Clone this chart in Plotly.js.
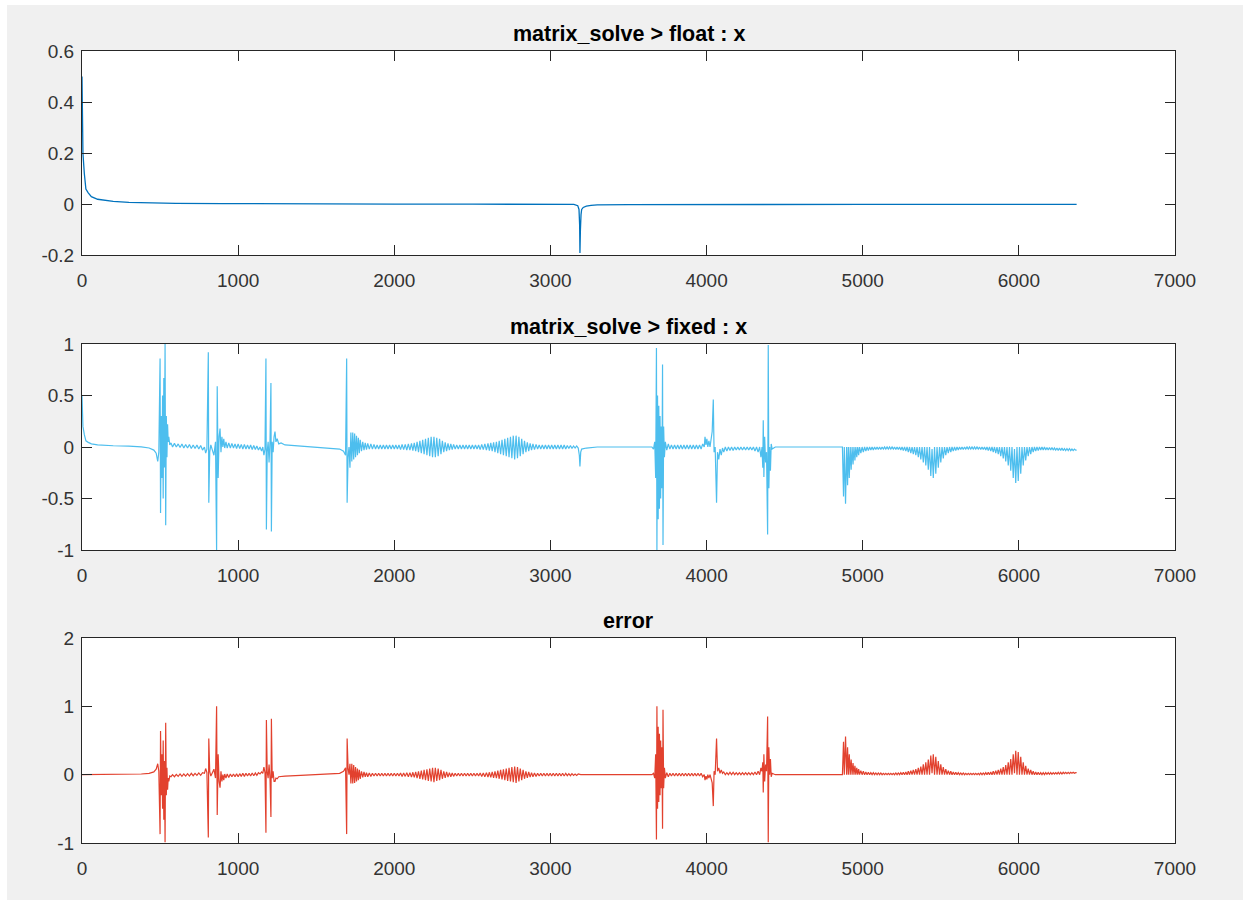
<!DOCTYPE html>
<html>
<head>
<meta charset="utf-8">
<script src="https://cdn.plot.ly/plotly-3.0.1.min.js"></script>
<style>
  html, body { margin: 0; padding: 0; background: #ffffff; }
  #chart { position: absolute; left: 7px; top: 5px; width: 1236px; height: 895px; }
</style>
</head>
<body>
<div id="chart"></div>
<script>
// ---- tick labels ----
const xTickVals = [0, 1000, 2000, 3000, 4000, 5000, 6000, 7000];
const xTickText = ["0", "1000", "2000", "3000", "4000", "5000", "6000", "7000"];
const yTickVals1 = [-0.2, 0, 0.2, 0.4, 0.6];
const yTickText1 = ["-0.2", "0", "0.2", "0.4", "0.6"];
const yTickVals2 = [-1, -0.5, 0, 0.5, 1];
const yTickText2 = ["-1", "-0.5", "0", "0.5", "1"];
const yTickVals3 = [-1, 0, 1, 2];
const yTickText3 = ["-1", "0", "1", "2"];

const titles = ["matrix_solve &gt; float : x", "matrix_solve &gt; fixed : x", "error"];

// ---- series 1: float solution ----
const xFloat = [0,3,6,15,25,40,60,100,150,200,300,400,600,900,1200,1600,2000,2500,3000,3150,3175,3183,3187,3189,3192,3196,3200,3210,3230,3260,3300,3500,4000,5000,6000,6370];
const yFloat = [0.5,0.35,0.2,0.12,0.06,0.045,0.03,0.02,0.015,0.012,0.008,0.006,0.004,0.003,0.002,0.0015,0.001,0.0008,0.0005,0,-0.005,-0.02,-0.08,-0.19,-0.1,-0.04,-0.02,-0.012,-0.007,-0.004,-0.002,-0.001,0,0,0,0];

// ---- series 2 & 3: fixed solution and error (same sample positions) ----
const xFixed = [
  0,3,6,15,25,40,60,100,150,200,300,380,430,460,475,485,492,
  500,503,508,512,516,520,524,528,532,536,540,544,548,552,556,562,
  570,580,592,604,616,628,640,652,664,676,688,700,712,724,736,748,760,772,784,792,800,
  809,812,818,825,835,845,855,862,866,872,878,884,890,896,902,908,914,922,930,940,950,960,970,980,990,1000,1010,1020,1030,1040,1050,1060,1070,1080,1090,1100,1110,1120,1130,1140,1150,1158,1165,1172,
  1178,1181,1186,1192,1198,1204,1210,1213,1218,1224,1230,1236,1242,1250,1260,1275,1300,1400,1500,1600,1650,1675,1688,
  1695,1698,1704,1710,1716,1722,1728,1734,1740,1746,1752,1758,1764,1770,1776,1782,1790,1798,1806,1814,1822,1830,1840,1850,1860,1870,1880,1890,1900,1910,1920,1930,1940,1950,1960,1970,1980,1990,2000,2010,2020,2030,2040,2050,2060,2070,2080,2090,
  2100,2110,2119,2128,2137,2146,2155,2164,2173,2182,2191,2200,2209,2218,2227,2236,2245,2254,2263,2272,2281,2290,2299,2308,2317,2326,2335,2344,2353,2362,2371,2380,
  2390,2400,2410,2420,2430,2440,2450,2460,2470,2480,2490,2500,2510,2520,2530,2540,2550,2560,2570,2580,2590,2600,
  2609,2618,2627,2636,2645,2654,2663,2672,2681,2690,2699,2708,2717,2726,2735,2744,2753,2762,2771,2780,2789,2798,2807,2816,2825,2834,2843,2852,2861,2870,2879,2888,
  2898,2908,2918,2928,2938,2948,2958,2968,2978,2988,2998,3008,3018,3028,3038,3048,3058,3068,3078,3088,3098,3108,3118,3128,3138,3148,3158,3168,3178,
  3185,3189,3194,3200,3230,3300,3650,
  3660,3668,3674,3679,3682,3686,3690,3694,3698,3702,3706,3710,3714,3718,3721,3725,3730,3736,3745,3755,3765,
  3775,3785,3795,3805,3815,3825,3835,3845,3855,3865,3875,3885,3895,3905,3915,3925,3935,3945,3955,3965,3975,
  3985,3990,3996,4002,4008,4015,4022,4030,4036,4043,4048,4055,4064,4070,4078,4086,4094,4102,4110,
  4120,4130,4140,4150,4160,4170,4180,4190,4200,4210,4220,4230,4240,4250,4260,4270,4280,4290,4300,4310,4320,4330,4340,
  4348,4355,4360,4363,4367,4372,4378,4384,4391,4395,4399,4404,4409,4414,4420,4440,4600,4860,
  4870,4877,4882,4890,4897,4903,4908,4914,4920,4926,4932,4938,4944,4950,4956,4962,4968,4974,4980,4988,4996,5004,5012,5020,5028,5036,5044,5052,5060,5068,5076,5084,5092,5100,5108,5116,5124,5132,5140,5148,5156,5164,5172,5180,5188,5196,5204,5212,5220,5228,5236,5244,5252,5260,5268,5276,5284,5292,5300,
  5308,5316,5324,5332,5340,5348,5356,5364,5372,5380,5388,5396,5404,5412,5420,5428,5436,5444,5452,5460,5468,5476,5484,5492,5500,5508,5516,5524,5532,5540,5548,5556,5564,5572,5580,5588,5596,5604,5612,5620,
  5628,5636,5644,5652,5660,5668,5676,5684,5692,5700,5708,5716,5724,5732,5740,5748,5756,5764,5772,5780,5788,5796,5804,5812,5820,5828,5836,5844,
  5852,5860,5868,5876,5884,5892,5900,5908,5916,5924,5932,5940,5948,5956,5964,5972,5980,5988,5996,6004,6012,6020,6028,6036,6044,6052,6060,6068,6076,6084,6092,6100,6108,6116,6124,6132,6140,6148,
  6156,6164,6172,6180,6188,6196,6204,6212,6220,6228,6236,6244,6252,6260,6268,6276,6284,6292,6300,6308,6316,6324,6332,6340,6348,6356,6364,6370
];

const yFixed = [
  0.5,0.35,0.2,0.12,0.06,0.045,0.03,0.02,0.015,0.012,0.008,0.002,-0.01,-0.03,-0.06,-0.14,-0.05,
  0.86,-0.64,0.3,-0.3,0.5,-0.5,0.67,-0.2,1.0,-0.76,0.3,-0.1,0.22,0.05,0.1,0.02,
  0.04,0,0.035,0,0.03,-0.005,0.03,-0.01,0.025,-0.01,0.025,-0.015,0.02,-0.015,0.02,-0.02,0.015,-0.03,0,-0.06,-0.02,
  0.92,-0.54,-0.05,0.02,-0.03,-0.08,0.05,-1.0,0.59,-0.3,0.1,0.18,-0.05,0.1,0,0.08,-0.01,0.05,-0.01,0.04,-0.01,0.035,-0.01,0.03,-0.015,0.03,-0.015,0.025,-0.02,0.025,-0.02,0.02,-0.02,0.02,-0.025,0.015,-0.025,0.01,-0.03,0,-0.04,0,-0.08,-0.02,
  0.86,-0.8,-0.05,0.05,-0.15,0.05,0.62,-0.82,0.05,-0.05,0.1,0.15,0.05,0.08,0.03,0.04,0.02,0.01,0,-0.01,-0.02,-0.04,-0.08,
  0.86,-0.54,-0.1,0,-0.2,0.14,-0.14,0.14,-0.12,0.13,-0.1,0.11,-0.08,0.09,-0.06,0.07,-0.04,0.05,-0.03,0.04,-0.025,0.035,-0.02,0.03,-0.02,0.025,-0.02,0.02,-0.02,0.02,-0.02,0.02,-0.02,0.02,-0.02,0.02,-0.02,0.02,-0.02,0.02,-0.02,0.02,-0.025,0.025,-0.025,0.025,-0.03,0.03,
  -0.03,0.035,-0.035,0.04,-0.04,0.05,-0.05,0.06,-0.06,0.07,-0.07,0.08,-0.08,0.09,-0.09,0.1,-0.1,0.1,-0.1,0.09,-0.09,0.08,-0.07,0.06,-0.05,0.045,-0.04,0.035,-0.03,0.03,-0.025,0.025,
  -0.02,0.02,-0.02,0.02,-0.02,0.02,-0.02,0.02,-0.02,0.02,-0.02,0.02,-0.02,0.02,-0.02,0.02,-0.025,0.025,-0.025,0.03,-0.03,0.035,
  -0.035,0.04,-0.04,0.045,-0.05,0.05,-0.06,0.06,-0.07,0.07,-0.08,0.08,-0.09,0.09,-0.1,0.1,-0.11,0.11,-0.12,0.11,-0.11,0.1,-0.09,0.08,-0.07,0.06,-0.05,0.045,-0.04,0.035,-0.03,0.03,
  -0.025,0.025,-0.02,0.02,-0.02,0.02,-0.02,0.02,-0.02,0.02,-0.02,0.02,-0.02,0.02,-0.02,0.02,-0.02,0.02,-0.02,0.02,-0.02,0.015,-0.015,0.015,-0.015,0.01,-0.01,0.01,-0.01,
  -0.08,-0.19,-0.05,-0.02,-0.01,0,0,
  -0.02,0.05,-0.3,0.96,-1.0,0.5,-0.7,0.4,-0.6,0.3,-0.5,0.2,-0.4,0.8,-0.95,0.2,-0.1,0.05,-0.03,0.03,-0.02,
  0.02,-0.02,0.02,-0.02,0.02,-0.02,0.02,-0.02,0.02,-0.02,0.02,-0.02,0.02,-0.02,0.02,-0.02,0.02,-0.02,0.02,-0.02,0.03,
  0,0.1,0.02,0.08,0,0.06,0,0.1,0.15,0.46,-0.05,0,-0.54,-0.05,-0.12,-0.02,-0.08,-0.01,-0.05,
  0,-0.04,0,-0.035,0,-0.035,0,-0.03,0,-0.03,0,-0.03,0,-0.03,0,-0.03,0,-0.03,0,-0.04,0,-0.05,0,
  -0.1,0,-0.2,0.26,-0.29,0.1,-0.15,-0.05,-0.85,0.99,-0.4,0,-0.23,0.03,-0.02,0,0,0,
  0,-0.48,0,-0.55,0,-0.37,0,-0.3,0,-0.22,0,-0.17,0,-0.13,0,-0.1,0,-0.08,0,-0.06,0,-0.05,0,-0.04,0,-0.035,0,-0.03,0,-0.03,0,-0.025,0,-0.025,0,-0.025,0,-0.02,0,-0.02,0,-0.02,0,-0.02,0,-0.02,0,-0.025,0,-0.025,0,-0.03,0,-0.035,0,-0.04,0,-0.05,0,
  -0.06,0,-0.07,0,-0.08,0,-0.1,0,-0.12,0,-0.15,0,-0.18,0,-0.22,0,-0.28,-0.02,-0.3,0,-0.26,0,-0.2,0,-0.15,0,-0.11,0,-0.08,0,-0.06,0,-0.05,0,-0.04,0,-0.035,0,-0.03,0,
  -0.025,0,-0.025,0,-0.02,0,-0.02,0,-0.02,0,-0.02,0,-0.02,0,-0.02,0,-0.025,0,-0.025,0,-0.03,0,-0.035,0,-0.04,0,-0.05,0,
  -0.06,0,-0.07,0,-0.09,0,-0.11,0,-0.14,0,-0.18,0,-0.23,0,-0.3,-0.02,-0.35,0,-0.33,0,-0.26,0,-0.18,0,-0.13,0,-0.09,0,-0.07,0,-0.05,0,-0.04,0,-0.035,0,-0.03,0,
  -0.03,0,-0.03,-0.005,-0.03,-0.005,-0.03,-0.005,-0.03,-0.01,-0.03,-0.01,-0.035,-0.01,-0.035,-0.01,-0.035,-0.015,-0.035,-0.015,-0.035,-0.015,-0.035,-0.02,-0.035,-0.02,-0.03,-0.03
];

const yError = [
  0,0,0,0,0,0,0,0,0.002,0.003,0.005,0.01,0.02,0.04,0.08,0.16,0.05,
  -0.87,0.64,-0.3,0.3,-0.5,0.5,-0.66,0.2,-0.99,0.76,-0.3,0.1,-0.22,-0.05,-0.1,-0.02,
  -0.03,0,-0.03,0.005,-0.025,0.01,-0.025,0.01,-0.02,0.015,-0.02,0.02,-0.015,0.02,-0.01,0.025,-0.01,0.03,0.02,0.09,0.03,
  -0.92,0.53,0.05,-0.02,0.03,0.08,-0.05,1.0,-0.59,0.3,-0.1,-0.19,0.05,-0.1,0,-0.08,0.01,-0.05,0.01,-0.04,0.01,-0.03,0.01,-0.03,0.015,-0.03,0.015,-0.025,0.02,-0.025,0.02,-0.02,0.02,-0.02,0.025,-0.015,0.025,-0.01,0.03,0.01,0.04,0.02,0.11,0.03,
  -0.85,0.8,0.05,-0.05,0.15,-0.05,-0.62,0.82,-0.05,0.05,-0.1,-0.1,-0.05,-0.06,-0.03,-0.03,-0.02,-0.01,0,0.01,0.02,0.05,0.1,
  -0.87,0.53,0.1,0,0.16,-0.13,0.16,-0.13,0.14,-0.12,0.11,-0.1,0.09,-0.08,0.07,-0.06,0.05,-0.04,0.04,-0.03,0.03,-0.03,0.025,-0.025,0.02,-0.02,0.02,-0.02,0.02,-0.02,0.02,-0.02,0.02,-0.02,0.02,-0.02,0.02,-0.02,0.02,-0.02,0.02,-0.02,0.025,-0.025,0.025,-0.025,0.03,-0.03,
  0.03,-0.035,0.035,-0.04,0.04,-0.05,0.05,-0.06,0.06,-0.07,0.07,-0.08,0.08,-0.09,0.09,-0.1,0.1,-0.11,0.1,-0.09,0.09,-0.08,0.07,-0.06,0.05,-0.045,0.04,-0.035,0.03,-0.03,0.025,-0.025,
  0.02,-0.02,0.02,-0.02,0.02,-0.02,0.02,-0.02,0.02,-0.02,0.02,-0.02,0.02,-0.02,0.02,-0.02,0.025,-0.025,0.025,-0.03,0.03,-0.035,
  0.035,-0.04,0.04,-0.045,0.05,-0.05,0.06,-0.06,0.07,-0.07,0.08,-0.08,0.09,-0.09,0.1,-0.1,0.11,-0.11,0.12,-0.12,0.11,-0.1,0.09,-0.08,0.07,-0.06,0.05,-0.045,0.04,-0.035,0.03,-0.03,
  0.025,-0.025,0.02,-0.02,0.02,-0.02,0.02,-0.02,0.02,-0.02,0.02,-0.02,0.02,-0.02,0.02,-0.02,0.02,-0.02,0.02,-0.02,0.02,-0.015,0.015,-0.015,0.015,-0.01,0.01,-0.01,0.01,
  0,0,0,0,0,0,0,
  0.02,-0.05,0.3,-0.95,1.0,-0.5,0.7,-0.4,0.6,-0.3,0.5,-0.2,0.4,-0.79,0.95,-0.2,0.1,-0.05,0.03,-0.03,0.02,
  -0.02,0.02,-0.02,0.02,-0.02,0.02,-0.02,0.02,-0.02,0.02,-0.02,0.02,-0.02,0.02,-0.02,0.02,-0.02,0.02,-0.02,0.02,-0.03,
  0,-0.08,-0.02,-0.07,0,-0.05,0,-0.1,-0.12,-0.46,0.05,0,0.53,0.05,0.1,0.02,0.07,0.02,0.04,
  0,0.03,0,0.035,0,0.035,0,0.03,0,0.03,0,0.03,0,0.03,0,0.03,0,0.03,0,0.04,0,0.05,0,
  0.1,0.05,0.18,-0.26,0.3,-0.1,0.15,0.05,0.85,-0.99,0.4,0,0.23,-0.03,0.02,0,0,0,
  0,0.48,0,0.56,0,0.4,0,0.3,0,0.22,0,0.17,0,0.13,0,0.1,0,0.08,0,0.06,0,0.05,0,0.04,0,0.035,0,0.03,0,0.03,0,0.025,0,0.025,0,0.025,0,0.02,0,0.02,0,0.02,0,0.02,0,0.02,0,0.025,0,0.025,0,0.03,0,0.035,0,0.04,0,0.05,0,
  0.06,0,0.07,0,0.08,0,0.1,0,0.12,0,0.15,0,0.18,0,0.22,0,0.28,0.02,0.3,0,0.26,0,0.2,0,0.15,0,0.11,0,0.08,0,0.06,0,0.05,0,0.04,0,0.035,0,0.03,0,
  0.025,0,0.025,0,0.02,0,0.02,0,0.02,0,0.02,0,0.02,0,0.02,0,0.025,0,0.025,0,0.03,0,0.035,0,0.04,0,0.05,0,
  0.06,0,0.07,0,0.09,0,0.11,0,0.14,0,0.18,0,0.23,0,0.3,0.02,0.35,0,0.33,0,0.26,0,0.18,0,0.13,0,0.09,0,0.07,0,0.05,0,0.04,0,0.035,0,0.03,0,
  0.03,0,0.03,0.005,0.03,0.005,0.03,0.005,0.03,0.01,0.03,0.01,0.035,0.01,0.035,0.01,0.035,0.015,0.035,0.015,0.035,0.015,0.035,0.02,0.035,0.02,0.03,0.03
];

// ---- styling ----
const FONT = "Liberation Sans, Arial, Helvetica, sans-serif";
const AXCOL = "#262626";

function xAxis(anchor) {
  return {
    anchor: anchor, domain: [0, 1], range: [0, 7000],
    tickmode: "array", tickvals: xTickVals, ticktext: xTickText,
    ticks: "inside", ticklen: 10, tickwidth: 1, tickcolor: AXCOL,
    showline: true, linecolor: AXCOL, linewidth: 1, mirror: "ticks",
    showgrid: false, zeroline: false, fixedrange: true,
    ticklabelstandoff: 8,
    tickfont: { family: FONT, size: 19, color: "#333333" }
  };
}
function yAxis(anchor, dom, rng, vals, text) {
  return {
    anchor: anchor, domain: dom, range: rng,
    tickmode: "array", tickvals: vals, ticktext: text,
    ticks: "inside", ticklen: 10, tickwidth: 1, tickcolor: AXCOL,
    showline: true, linecolor: AXCOL, linewidth: 1, mirror: "ticks",
    showgrid: false, zeroline: false, fixedrange: true,
    ticklabelstandoff: 3,
    tickfont: { family: FONT, size: 19, color: "#333333" }
  };
}

const domains = [[0.7418, 1.0], [0.3699, 0.6301], [0.0, 0.2588]];

const traces = [
  { x: xFloat, y: yFloat, xaxis: "x", yaxis: "y", type: "scatter", mode: "lines",
    line: { color: "#0072bd", width: 1.3 }, hoverinfo: "skip", showlegend: false },
  { x: xFixed, y: yFixed, xaxis: "x2", yaxis: "y2", type: "scatter", mode: "lines",
    line: { color: "#4dbeee", width: 1.2 }, hoverinfo: "skip", showlegend: false },
  { x: xFixed, y: yError, xaxis: "x3", yaxis: "y3", type: "scatter", mode: "lines",
    line: { color: "#e2412e", width: 1.2 }, hoverinfo: "skip", showlegend: false }
];

const annotations = titles.map((t, i) => ({
  text: "<b>" + t + "</b>", xref: "paper", yref: "paper",
  x: 0.5, y: domains[i][1], xanchor: "center", yanchor: "bottom",
  yshift: 3, showarrow: false,
  font: { family: FONT, size: 21.5, color: "#000000" }
}));

const layout = {
  width: 1236, height: 895,
  margin: { l: 75, r: 68, t: 46, b: 57 },
  paper_bgcolor: "#f0f0f0", plot_bgcolor: "#ffffff",
  showlegend: false,
  xaxis: xAxis("y"),
  yaxis: yAxis("x", domains[0], [-0.2, 0.6], yTickVals1, yTickText1),
  xaxis2: xAxis("y2"),
  yaxis2: yAxis("x2", domains[1], [-1, 1], yTickVals2, yTickText2),
  xaxis3: xAxis("y3"),
  yaxis3: yAxis("x3", domains[2], [-1, 2], yTickVals3, yTickText3),
  annotations: annotations
};

Plotly.newPlot("chart", traces, layout, { staticPlot: true, displayModeBar: false });
</script>
</body>
</html>
